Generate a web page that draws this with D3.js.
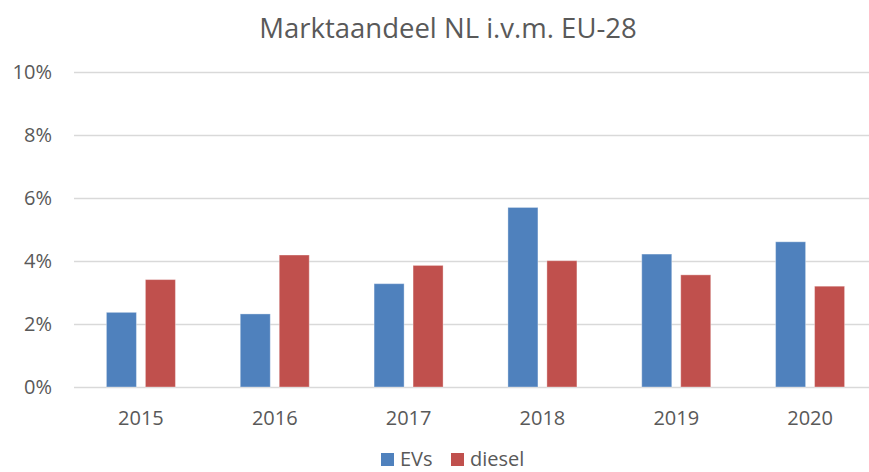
<!DOCTYPE html>
<html>
<head>
<meta charset="utf-8">
<script src="https://cdn.jsdelivr.net/npm/d3@7"></script>
<style>
  body { margin: 0; background: #fff; }
  svg { display: block; font-family: "Open Sans", sans-serif; }
</style>
</head>
<body>
<svg id="chart"></svg>
<script>
var width = 869, height = 472;

// data
var years = ["2015", "2016", "2017", "2018", "2019", "2020"];
var series = ["EVs", "diesel"];
var evs = [2.37, 2.32, 3.28, 5.70, 4.22, 4.61];
var diesel = [3.41, 4.19, 3.86, 4.01, 3.56, 3.20];
var yTicks = [0, 2, 4, 6, 8, 10];
var colors = ["#4f81bd", "#c0504d"];

var rows = years.map(function(y, i) { return { year: y, values: [evs[i], diesel[i]] }; });

var svg = d3.select("#chart").attr("width", width).attr("height", height);

var x0 = d3.scaleBand().domain(years).range([74, 877]);
var x1 = d3.scaleBand().domain(series).range([-34.5, 34.5]).paddingInner(0.23);
var y = d3.scaleLinear().domain([0, 10]).range([387, 72]);

// title
svg.append("text")
  .attr("x", 448).attr("y", 38)
  .attr("text-anchor", "middle")
  .attr("fill", "#595959")
  .style("font-size", "27.5px")
  .text("Marktaandeel NL i.v.m. EU-28");

// grid lines
svg.append("g")
  .selectAll("line")
  .data(yTicks)
  .enter().append("line")
  .attr("x1", 74).attr("x2", 869)
  .attr("y1", function(d) { return Math.round(y(d)) + 0.5; })
  .attr("y2", function(d) { return Math.round(y(d)) + 0.5; })
  .attr("stroke", "#d9d9d9")
  .attr("stroke-width", 1.3);

// y labels
svg.append("g")
  .selectAll("text")
  .data(yTicks)
  .enter().append("text")
  .attr("x", 52)
  .attr("y", function(d) { return y(d); })
  .attr("dy", "0.35em")
  .attr("text-anchor", "end")
  .attr("fill", "#595959")
  .style("font-size", "20px")
  .text(function(d) { return d + "%"; });

// bars
var groups = svg.append("g")
  .selectAll("g")
  .data(rows)
  .enter().append("g")
  .attr("transform", function(d) { return "translate(" + (x0(d.year) + x0.bandwidth() / 2) + ",0)"; });

groups.selectAll("rect")
  .data(function(d) { return d.values.map(function(v, i) { return { key: series[i], value: v, i: i }; }); })
  .enter().append("rect")
  .attr("x", function(d) { return x1(d.key); })
  .attr("width", x1.bandwidth())
  .attr("y", function(d) { return y(d.value); })
  .attr("height", function(d) { return y(0) - y(d.value); })
  .attr("fill", function(d) { return colors[d.i]; })
  .attr("stroke", "rgba(255,255,255,0.35)")
  .attr("stroke-width", 1);

// x labels
svg.append("g")
  .selectAll("text")
  .data(years)
  .enter().append("text")
  .attr("x", function(d) { return x0(d) + x0.bandwidth() / 2; })
  .attr("y", 425)
  .attr("text-anchor", "middle")
  .attr("fill", "#595959")
  .style("font-size", "20px")
  .text(function(d) { return d; });

// legend (kept just inside the bottom edge)
var legendX = [381, 451];
var legend = svg.append("g")
  .selectAll("g")
  .data(series)
  .enter().append("g")
  .attr("transform", function(d, i) { return "translate(" + legendX[i] + ",0)"; });

legend.append("rect")
  .attr("x", 0).attr("y", 453)
  .attr("width", 13).attr("height", 13)
  .attr("fill", function(d, i) { return colors[i]; });

legend.append("text")
  .attr("x", 19).attr("y", 466)
  .attr("fill", "#595959")
  .style("font-size", "20px")
  .text(function(d) { return d; });
</script>
</body>
</html>
